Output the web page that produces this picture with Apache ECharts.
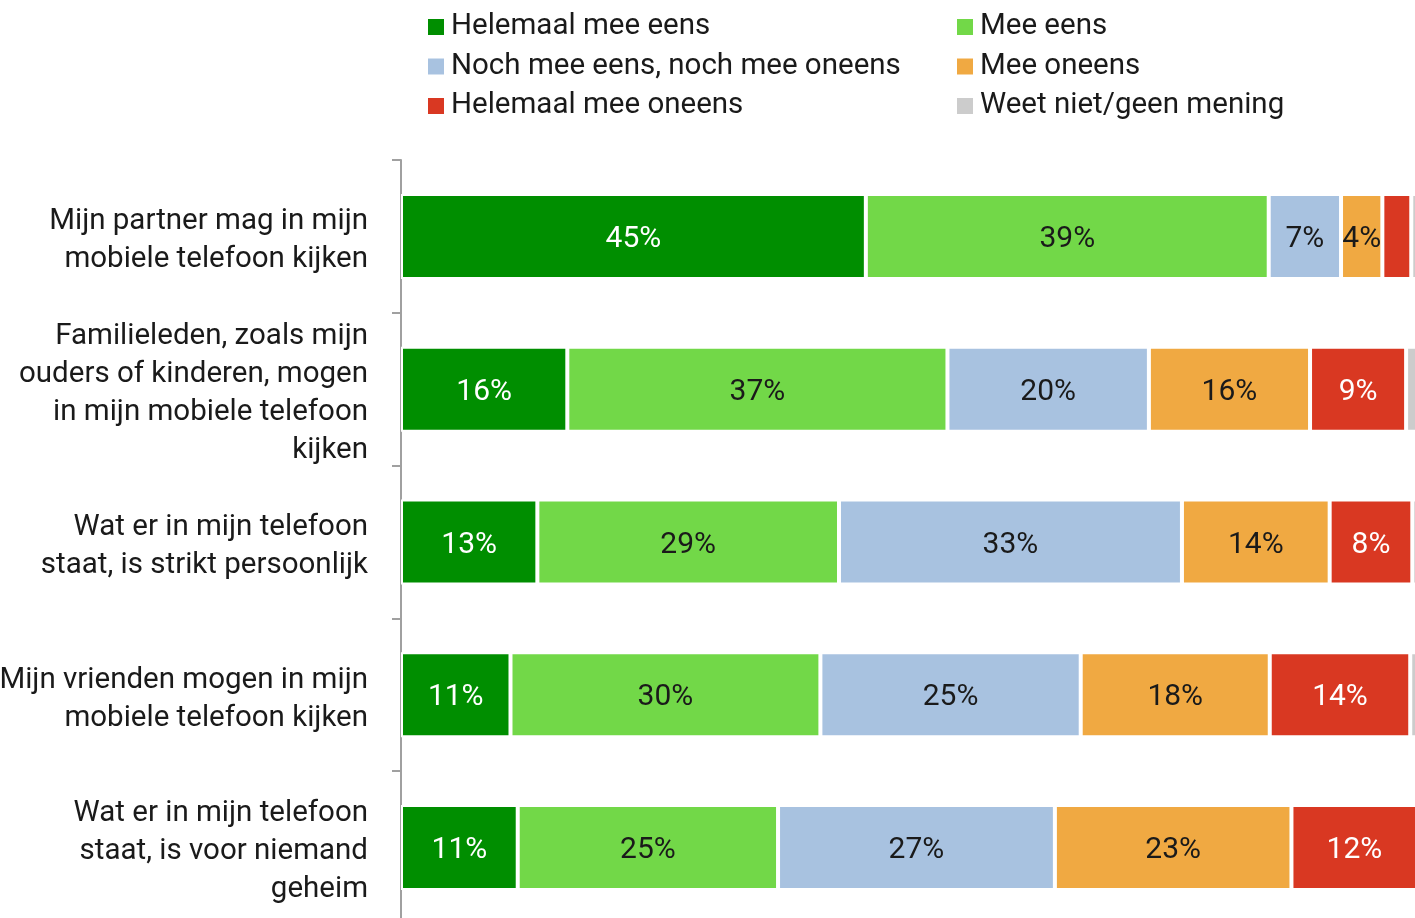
<!DOCTYPE html>
<html>
<head>
<meta charset="utf-8">
<script src="https://cdn.jsdelivr.net/npm/echarts@6/dist/echarts.min.js"></script>
<style>
  html, body { margin: 0; padding: 0; background: #fff; }
  #chart { width: 1415px; height: 918px; }
</style>
</head>
<body>
<div id="chart"></div>
<script>
// categorieen (van boven naar beneden)
var categories = [
  'Mijn partner mag in mijn\nmobiele telefoon kijken',
  'Familieleden, zoals mijn\nouders of kinderen, mogen\nin mijn mobiele telefoon\nkijken',
  'Wat er in mijn telefoon\nstaat, is strikt persoonlijk',
  'Mijn vrienden mogen in mijn\nmobiele telefoon kijken',
  'Wat er in mijn telefoon\nstaat, is voor niemand\ngeheim'
];

var seriesNames = [
  'Helemaal mee eens',
  'Mee eens',
  'Noch mee eens, noch mee oneens',
  'Mee oneens',
  'Helemaal mee oneens',
  'Weet niet/geen mening'
];

var colors = ['#008e00', '#72d848', '#a8c2e0', '#f0a942', '#d93822', '#cccccc'];
var labelColors = ['#ffffff', '#1a1a1a', '#1a1a1a', '#1a1a1a', '#ffffff', '#1a1a1a'];

// percentages per antwoord
var helemaalEens = [45.0, 16.1, 13.2, 10.6, 11.3];
var eens = [39.0, 36.8, 29.2, 30.0, 25.2];
var neutraal = [7.0, 19.5, 33.2, 25.2, 26.8];
var oneens = [4.0, 15.6, 14.3, 18.3, 22.9];
var helemaalOneens = [2.8, 9.3, 8.0, 13.6, 12.2];
var weetNiet = [2.2, 2.7, 2.1, 2.3, 1.6];

var values = [helemaalEens, eens, neutraal, oneens, helemaalOneens, weetNiet];

var font = 'Roboto';

var series = seriesNames.map(function (name, i) {
  return {
    name: name,
    type: 'bar',
    stack: 'totaal',
    barWidth: 85,
    data: values[i],
    itemStyle: { color: colors[i], borderColor: '#ffffff', borderWidth: 2 },
    label: {
      show: true,
      position: 'inside',
      offset: [0, 3],
      fontFamily: font,
      fontSize: 30,
      color: labelColors[i],
      formatter: function (p) {
        return p.value >= 3.5 ? Math.round(p.value) + '%' : '';
      }
    },
    emphasis: { disabled: true }
  };
});

var legendText = { fontFamily: font, fontSize: 29.5, color: '#1a1a1a', lineHeight: 30, padding: [0, 0, 0, 1] };

var myChart = echarts.init(document.getElementById('chart'));
var option = {
  animation: false,
  color: colors,
  legend: [
    {
      orient: 'vertical',
      left: 426, top: 12, padding: 0,
      icon: 'rect', itemWidth: 18, itemHeight: 18, itemGap: 9.5,
      selectedMode: false,
      textStyle: legendText,
      data: [seriesNames[0], seriesNames[2], seriesNames[4]]
    },
    {
      orient: 'vertical',
      left: 955, top: 12, padding: 0,
      icon: 'rect', itemWidth: 18, itemHeight: 18, itemGap: 9.5,
      selectedMode: false,
      textStyle: legendText,
      data: [seriesNames[1], seriesNames[3], seriesNames[5]]
    }
  ],
  grid: { left: 401, right: -19, top: 160, bottom: -6, containLabel: false, outerBoundsMode: 'none' },
  xAxis: {
    type: 'value',
    min: 0, max: 100,
    show: false
  },
  yAxis: {
    type: 'category',
    inverse: true,
    data: categories,
    axisLine: { show: true, lineStyle: { color: '#a0a0a0', width: 2 } },
    axisTick: { show: true, length: 9, lineStyle: { color: '#a0a0a0', width: 2 } },
    axisLabel: {
      margin: 33,
      align: 'right',
      // lege regel bovenaan schuift de tekst iets omlaag
      formatter: function (v) {
        return '{s|}\n' + v.split('\n').map(function (l) { return '{l|' + l + '}'; }).join('\n');
      },
      rich: {
        s: { fontSize: 1, lineHeight: 9 },
        l: { fontFamily: font, fontSize: 29.5, lineHeight: 38, color: '#1a1a1a', align: 'right' }
      }
    }
  },
  series: series
};
myChart.setOption(option);
</script>
</body>
</html>
